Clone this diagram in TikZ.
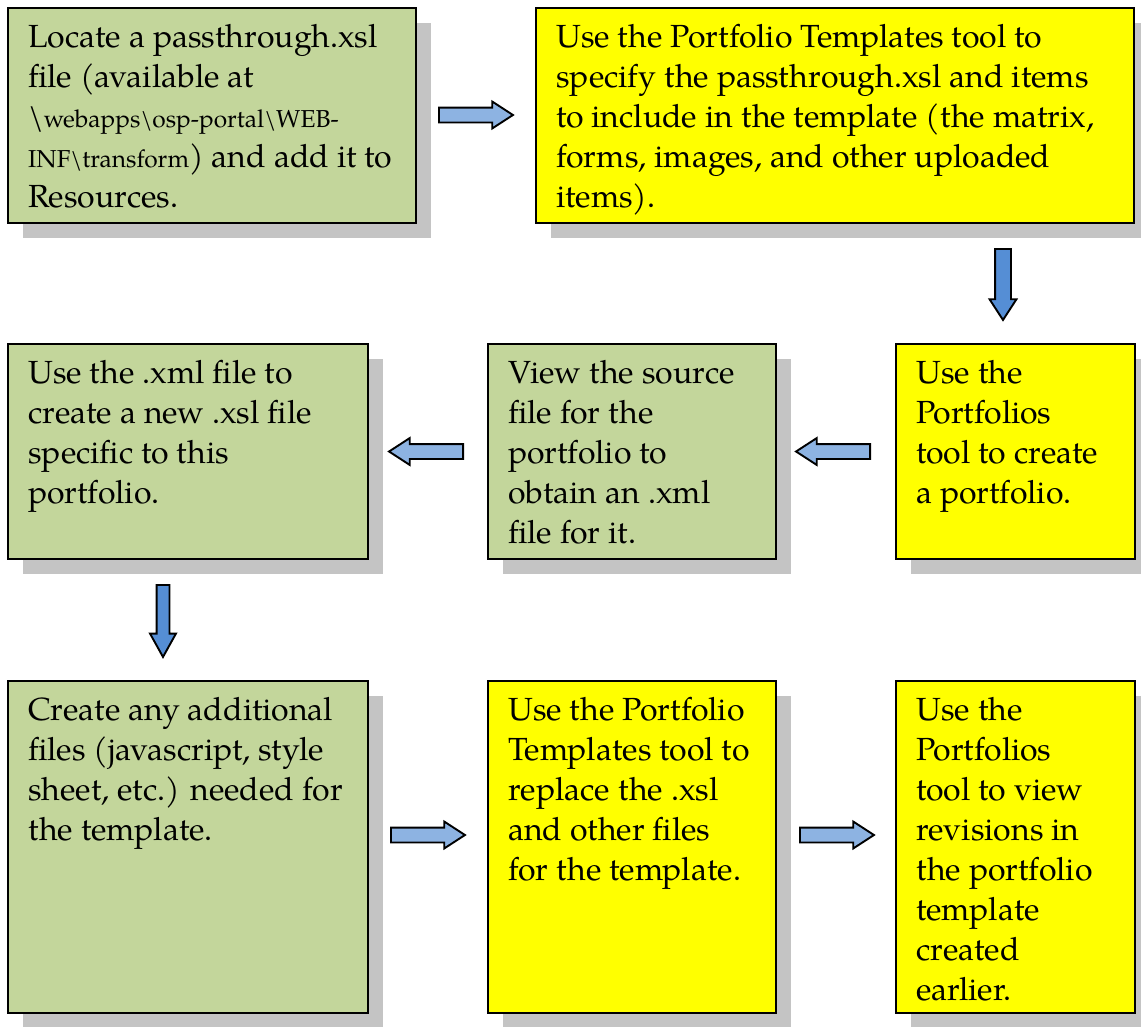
\documentclass[tikz,border=0pt]{standalone}
\usepackage{fontspec}
\setmainfont{TeX Gyre Pagella}
\usetikzlibrary{shapes.arrows,shadows}
\definecolor{boxgreen}{HTML}{C3D69B}
\definecolor{boxyellow}{HTML}{FFFF00}
\definecolor{arrowlight}{HTML}{8DB3E2}
\definecolor{arrowdark}{HTML}{558ED5}
\definecolor{shadowgray}{HTML}{C4C4C4}
\newcommand{\pathfont}{\fontsize{24.5}{40}\selectfont}
% text block whose baseline is that of its first line
\newcommand{\steptext}[1]{\begin{tabular}[t]{@{}l@{}}#1\end{tabular}}
\begin{document}
\begin{tikzpicture}[x=1pt,y=-1pt,
  stepbox/.style={draw=black, line width=2.1pt, anchor=north west, inner sep=0pt,
    drop shadow={shadow xshift=15pt, shadow yshift=-15pt, fill=shadowgray, opacity=1}},
  greenbox/.style={stepbox, fill=boxgreen},
  yellowbox/.style={stepbox, fill=boxyellow},
  boxtext/.style={anchor=base west, inner sep=0pt,
    font=\fontsize{32}{40}\selectfont},
  blockarrow/.style={single arrow, draw=black, line width=1.9pt, inner sep=6.5pt,
    single arrow head extend=6pt, single arrow tip angle=66, minimum height=74pt,
    anchor=tail},
  rightarrow/.style={blockarrow, fill=arrowlight},
  leftarrow/.style={blockarrow, fill=arrowlight, shape border rotate=180},
  downarrow/.style={blockarrow, fill=arrowdark, shape border rotate=270,
    inner sep=7pt, single arrow head extend=5.5pt, minimum height=71pt},
]
\useasboundingbox (0,0) rectangle (1141,1026);
\clip (0,0) rectangle (1141,1026);

% step boxes
\node[greenbox,  minimum width=408pt, minimum height=215pt] (b1) at (7,7) {};
\node[yellowbox, minimum width=598pt, minimum height=215pt] (b2) at (535,7) {};
\node[yellowbox, minimum width=239pt, minimum height=215pt] (b3) at (895,343) {};
\node[greenbox,  minimum width=288pt, minimum height=215pt] (b4) at (487,343) {};
\node[greenbox,  minimum width=360pt, minimum height=215pt] (b5) at (7,343) {};
\node[greenbox,  minimum width=360pt, minimum height=332pt] (b6) at (7,680) {};
\node[yellowbox, minimum width=288pt, minimum height=332pt] (b7) at (487,680) {};
\node[yellowbox, minimum width=239pt, minimum height=332pt] (b8) at (895,680) {};

% box texts
\node[boxtext] (t1) at ([shift={(21pt,-40pt)}]b1.north west)
  {\steptext{Locate a passthrough.xsl\\file (available at\\
   \textbackslash{\pathfont webapps\textbackslash osp-portal\textbackslash WEB-}\\
   {\pathfont INF\textbackslash transform}) and add it to\\Resources.}};
\node[boxtext] (t2) at ([shift={(21pt,-40pt)}]b2.north west)
  {\steptext{Use the Portfolio Templates tool to\\specify the passthrough.xsl and items\\
   to include in the template (the matrix,\\forms, images, and other uploaded\\items).}};
\node[boxtext] (t3) at ([shift={(21pt,-40pt)}]b3.north west)
  {\steptext{Use the\\Portfolios\\tool to create\\a portfolio.}};
\node[boxtext] (t4) at ([shift={(21pt,-40pt)}]b4.north west)
  {\steptext{View the source\\file for the\\portfolio to\\obtain an .xml\\file for it.}};
\node[boxtext] (t5) at ([shift={(21pt,-40pt)}]b5.north west)
  {\steptext{Use the .xml file to\\create a new .xsl file\\specific to this\\portfolio.}};
\node[boxtext] (t6) at ([shift={(21pt,-40pt)}]b6.north west)
  {\steptext{Create any additional\\files (javascript, style\\sheet, etc.) needed for\\the template.}};
\node[boxtext] (t7) at ([shift={(21pt,-40pt)}]b7.north west)
  {\steptext{Use the Portfolio\\Templates tool to\\replace the .xsl\\and other files\\for the template.}};
\node[boxtext] (t8) at ([shift={(21pt,-40pt)}]b8.north west)
  {\steptext{Use the\\Portfolios\\tool to view\\revisions in\\the portfolio\\template\\created\\earlier.}};

% block arrows between the steps, placed by their tails
\node[rightarrow] (a1) at (438,115) {};
\node[downarrow]  (a2) at (1003,248) {};
\node[leftarrow]  (a3) at (871,451.5) {};
\node[leftarrow]  (a4) at (464,451.5) {};
\node[downarrow, inner sep=5.5pt, single arrow head extend=6.5pt,
      single arrow tip angle=58, minimum height=72pt] (a5) at (163,584) {};
\node[rightarrow] (a6) at (390,835) {};
\node[rightarrow] (a7) at (799,835) {};
\end{tikzpicture}
\end{document}
